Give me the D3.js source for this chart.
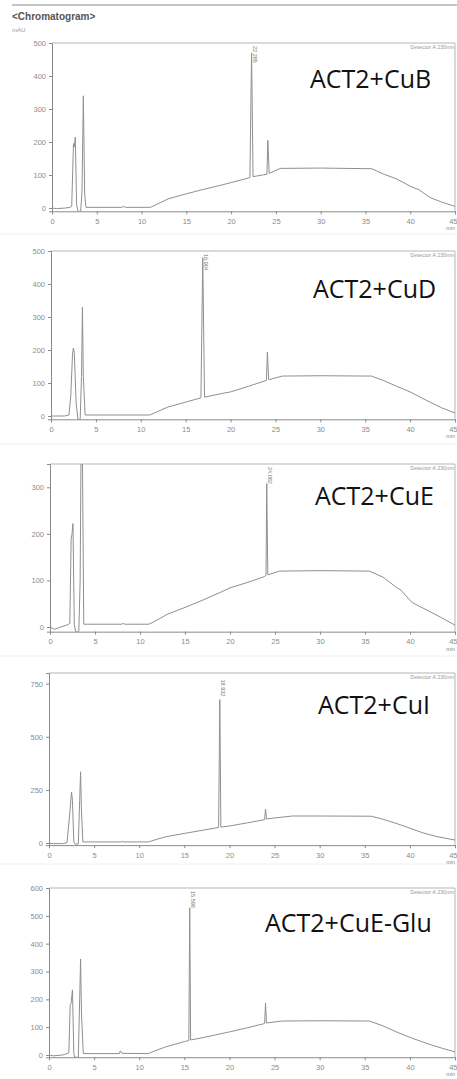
<!DOCTYPE html>
<html><head><meta charset="utf-8">
<script src="https://cdn.jsdelivr.net/npm/d3@7"></script>
<style>
html,body{margin:0;padding:0;background:#fff;}
svg{display:block;}
</style></head>
<body>
<svg id="c" width="457" height="1079"></svg>
<script>
// ---- data (retention time in min, absorbance in mAU) ----
const sampleNames = ["ACT2+CuB", "ACT2+CuD", "ACT2+CuE", "ACT2+CuI", "ACT2+CuE-Glu"];
const peakTimes = [22.285, 16.904, 24.082, 18.932, 15.598];

const tCuB = [0,0.5,1.5,2.0,2.2,2.4,2.5,2.6,2.75,2.9,3.2,3.35,3.5,3.65,3.8,7.8,8.0,8.2,11,12,13,15,17,19,20,22.1,22.285,22.45,23.5,24.0,24.1,24.25,25.5,30,35.7,37,38.5,40,41,42.2,43.5,45];
const vCuB = [0,-2,0,2,5,195,185,215,10,-10,-10,50,340,40,2,2,5,2,2,15,28,43,57,70,77,92,470,95,100,102,205,105,120,121,119,103,88,66,55,32,18,5];

const tCuD = [0,1.5,2.0,2.2,2.4,2.5,2.6,2.8,3.0,3.25,3.4,3.5,3.6,3.8,11,12,13,15,16.7,16.904,17.1,19,20,22,24.0,24.1,24.25,25.8,30,35.7,37,38.5,40,42,43.5,45];
const vCuD = [0,0,3,60,190,206,190,40,-10,-10,120,330,120,3,3,15,27,42,55,480,57,68,73,90,108,194,110,121,122,121,108,90,73,45,25,9];

const tCuE = [0,0.5,1.2,2.0,2.2,2.35,2.45,2.55,2.7,2.85,3.2,3.35,3.45,3.6,3.75,8.0,8.1,8.3,11,12,13,15,17,19,20,22,23.8,24.0,24.082,24.2,25.5,30,35.5,37,38.5,39,40.2,42,43.5,45];
const vCuE = [0,-5,0,5,8,190,200,222,5,-10,-10,100,380,380,6,6,8,6,6,16,27,42,58,75,84,96,108,111,308,112,120,121,120,107,85,79,53,35,20,4];

const tCuI = [0,0.5,1.5,2.0,2.3,2.5,2.6,2.75,2.9,3.25,3.4,3.5,3.6,3.75,8,8.1,8.3,11,12,13,15,17,18.8,18.932,19.05,20,22,23.9,24.0,24.1,25,27,30,35.7,37,39,41.5,43,45];
const vCuI = [0,-3,-3,2,140,240,200,5,-5,-5,200,335,150,5,5,8,5,5,18,30,45,60,73,675,75,80,95,110,160,113,118,127,127,126,112,85,47,30,14];

const tCuEGlu = [0,0.5,1.5,2.0,2.2,2.35,2.45,2.6,2.75,2.85,3.25,3.4,3.5,3.6,3.8,7.8,7.9,8.1,11,12,13,15,15.5,15.598,15.7,17,20,22,23.9,24.0,24.1,25.8,30,35.5,37,38.5,40.2,42,43.5,45];
const vCuEGlu = [0,-3,0,5,8,180,185,234,5,-8,-8,200,345,150,5,5,15,6,5,18,30,48,52,529,54,62,83,98,113,187,115,122,123,122,105,83,61,40,25,11];

const xTicks = [0,5,10,15,20,25,30,35,40,45];
const yTicksB = [0,100,200,300,400,500];
const yTicksD = [0,100,200,300,400,500];
const yTicksE = [0,100,200,300];
const yTicksI = [0,250,500,750];
const yTicksGlu = [0,100,200,300,400,500,600];

const series = [
  {t:tCuB, v:vCuB, ticks:yTicksB, minor:20, yMin:-10, yMax:500},
  {t:tCuD, v:vCuD, ticks:yTicksD, minor:20, yMin:-10, yMax:500},
  {t:tCuE, v:vCuE, ticks:yTicksE, minor:20, yMin:-10, yMax:350},
  {t:tCuI, v:vCuI, ticks:yTicksI, minor:50, yMin:-10, yMax:800},
  {t:tCuEGlu, v:vCuEGlu, ticks:yTicksGlu, minor:20, yMin:-8, yMax:600}
];

// ---- layout ----
const panelTop  = [43, 251, 464, 673, 888];
const panelZero = [208, 416, 627, 843, 1055];
const panelLeft = [52, 51, 50, 49, 49];
const panelRight = 455;
const labelX = [310, 313, 315, 318, 265];
const labelY = [88, 298, 505, 714, 932];
const sepY = [234, 444, 656, 864];

const svg = d3.select("#c");
const axisCol = "#8a8a8a", frameCol = "#b5b5b5", textCol = "#8c8c8c", traceCol = "#8f8f8f";

// header
svg.append("line").attr("x1",12).attr("x2",457).attr("y1",5).attr("y2",5)
  .attr("stroke","#c4c4c4").attr("stroke-width",2);
svg.append("text").attr("x",12).attr("y",20).text("<Chromatogram>")
  .attr("font-family","Liberation Sans, Arial, sans-serif").attr("font-weight","bold")
  .attr("font-size",10).attr("fill","#555");
svg.append("text").attr("x",12).attr("y",32).text("mAU")
  .attr("font-family","Liberation Sans, Arial, sans-serif")
  .attr("font-size",6).attr("fill","#999");

sepY.forEach(y => svg.append("line").attr("x1",0).attr("x2",457).attr("y1",y).attr("y2",y)
  .attr("stroke","#f1f1f1").attr("stroke-width",1));

series.forEach((s, i) => {
  const top = panelTop[i], zero = panelZero[i], left = panelLeft[i];
  const ppu = (zero - top) / s.yMax;
  const bottom = zero - s.yMin * ppu;
  const x = d3.scaleLinear().domain([0,45]).range([left, panelRight]);
  const y = d3.scaleLinear().domain([s.yMin, s.yMax]).range([bottom, top]);
  const g = svg.append("g");

  // clip
  const cid = "clip" + i;
  svg.append("clipPath").attr("id", cid).append("rect")
    .attr("x", left).attr("y", top).attr("width", panelRight-left).attr("height", bottom-top);

  // frame top/right
  g.append("line").attr("x1",left).attr("x2",panelRight).attr("y1",top).attr("y2",top)
    .attr("stroke",frameCol).attr("stroke-width",1.2);
  g.append("line").attr("x1",panelRight).attr("x2",panelRight).attr("y1",top).attr("y2",bottom)
    .attr("stroke",frameCol).attr("stroke-width",1);

  // trace
  const pts = s.t.map((t,k)=>[t, s.v[k]]);
  g.append("path").datum(pts).attr("clip-path",`url(#${cid})`)
    .attr("d", d3.line().x(d=>x(d[0])).y(d=>y(Math.max(s.yMin, d[1]))))
    .attr("fill","none").attr("stroke",traceCol).attr("stroke-width",1);

  // x axis minor + major
  const xMinor = d3.range(0,46,1);
  const xa = g.append("g").attr("transform",`translate(0,${bottom})`);
  xa.call(d3.axisBottom(x).tickValues(xMinor).tickSize(2).tickFormat(""));
  xa.call(d3.axisBottom(x).tickValues(xTicks).tickSize(3).tickFormat(d3.format("d")));
  xa.selectAll("path").attr("stroke",axisCol);
  xa.selectAll("line").attr("stroke",axisCol);
  xa.selectAll("text").attr("fill",textCol).attr("font-size",7.5)
    .attr("font-family","Liberation Sans, Arial, sans-serif").attr("dy","0.9em")
    .filter(d => d === 45).attr("text-anchor","end").attr("dx", 2);

  // y axis
  const yMinor = d3.range(0, s.yMax+0.1, s.minor);
  const ya = g.append("g").attr("transform",`translate(${left},0)`);
  ya.call(d3.axisLeft(y).tickValues(yMinor).tickSize(2).tickFormat(""));
  ya.call(d3.axisLeft(y).tickValues(s.ticks).tickSize(3).tickFormat(d3.format("d")));
  ya.selectAll("path").attr("stroke",axisCol);
  ya.selectAll("line").attr("stroke",axisCol);
  ya.selectAll("text").attr("fill",textCol).attr("font-size",7.5)
    .attr("font-family","Liberation Sans, Arial, sans-serif");

  // min label
  g.append("text").attr("x",panelRight).attr("y",bottom+19).attr("text-anchor","end")
    .text("min").attr("font-size",5.5).attr("fill",textCol)
    .attr("font-family","Liberation Sans, Arial, sans-serif");

  // detector label
  g.append("text").attr("x",panelRight-1).attr("y",top+6).attr("text-anchor","end")
    .text("Detector A 230nm").attr("font-size",5.5).attr("fill","#999")
    .attr("font-family","Liberation Sans, Arial, sans-serif");

  // peak label
  const rt = peakTimes[i];
  const k = s.t.indexOf(rt);
  const pv = s.v[k];
  const px = x(rt) + 1.5;
  const py = Math.max(top + 3, y(pv) - 20);
  g.append("text").attr("transform",`translate(${px},${py}) rotate(90)`)
    .text(rt.toFixed(3)).attr("font-size",5.5).attr("fill","#777")
    .attr("font-family","Liberation Sans, Arial, sans-serif");

  // sample label
  g.append("text").attr("x",labelX[i]).attr("y",labelY[i]).text(sampleNames[i])
    .attr("font-family","Open Sans, sans-serif").attr("font-size",25).attr("fill","#111");
});
</script>
</body></html>
